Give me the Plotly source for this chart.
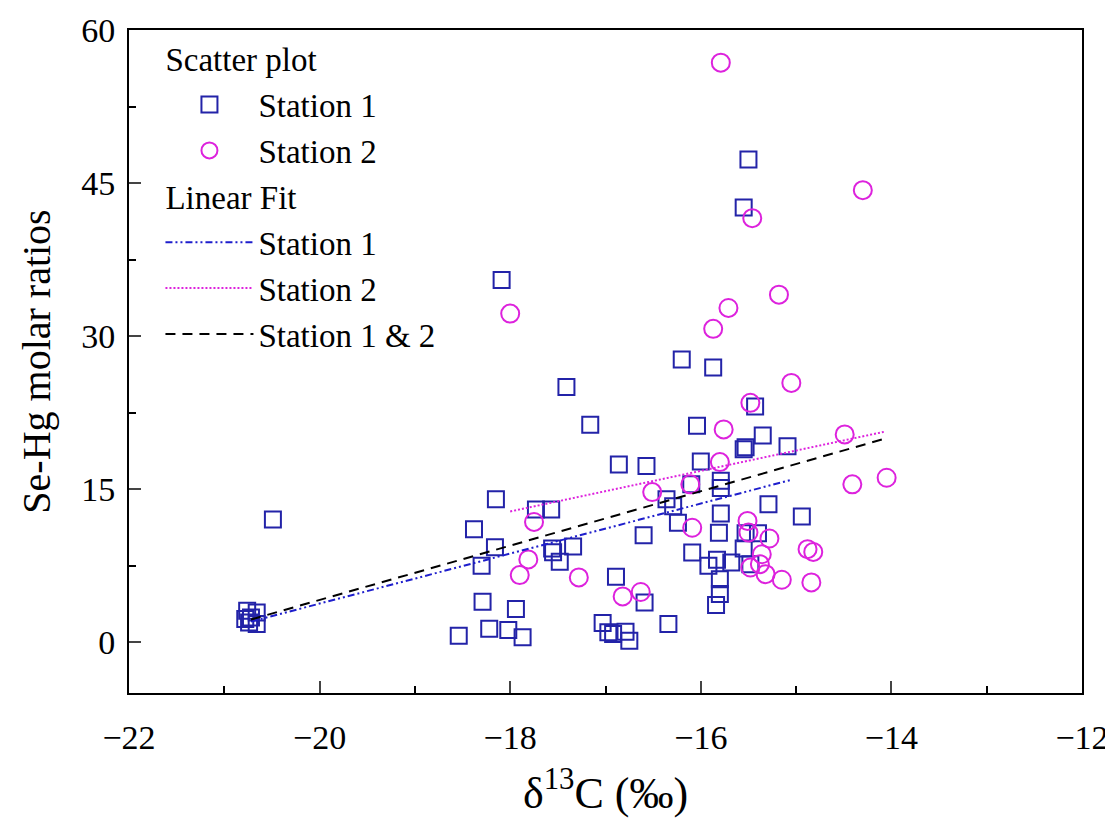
import plotly.graph_objects as go

# Station 1 (squares)
s1_x = [-20.76, -20.66, -20.78, -20.74, -20.66, -20.72, -20.49,
        -18.38, -18.16, -18.30, -18.29, -18.22, -18.54, -18.09,
        -17.41, -17.16, -16.20, -15.87, -16.04, -16.86, -16.57, -16.00,
        -18.15, -17.73, -17.57, -16.10, -16.36, -16.29, -16.24,
        -17.56, -17.34, -17.48, -17.55, -16.60, -16.89, -16.59, -16.34,
        -17.94, -18.02, -17.87, -17.03, -16.97, -16.92, -16.79, -16.75,
        -15.43, -15.35, -15.09, -15.55, -15.53, -15.79, -15.79, -15.29,
        -15.79, -14.94, -15.81, -15.53, -15.40, -16.09, -15.92, -15.83,
        -15.68, -15.55, -15.48, -15.80, -15.80, -15.84, -15.50, -15.55]
s1_y = [3.06, 2.90, 2.25, 1.90, 1.76, 2.40, 12.0,
        11.06, 9.30, 7.47, 3.94, 1.30, 0.62, 35.5,
        25.0, 21.3, 27.7, 26.9, 21.2, 17.4, 17.25, 17.7,
        14.0, 13.0, 13.0, 15.46, 14.0, 13.3, 11.7,
        9.16, 9.36, 7.86, 8.80, 10.47, 6.40, 3.88, 1.76,
        3.23, 1.17, 0.46, 1.86, 0.95, 0.78, 1.00, 0.13,
        23.1, 20.25, 19.2, 18.9, 19.1, 15.8, 15.1, 13.5,
        12.6, 12.3, 10.7, 10.65, 10.65, 8.78, 7.47, 8.06,
        7.80, 9.16, 7.63, 6.16, 4.70, 3.62, 47.3, 42.6]

# Station 2 (circles)
s2_x = [-15.79, -14.30, -15.46, -15.18, -15.71, -15.87, -18.00, -15.05,
        -15.48, -15.76, -14.49, -15.80, -16.11, -16.51, -14.41, -14.05,
        -16.09, -15.51, -15.50, -15.28, -15.36, -14.88, -14.82, -15.48,
        -15.38, -15.32, -15.15, -14.84, -16.63, -16.82, -17.75, -17.81,
        -17.90, -17.28]
s2_y = [56.8, 44.3, 41.55, 34.05, 32.75, 30.7, 32.2, 25.4,
        23.45, 20.84, 20.35, 17.64, 15.46, 14.7, 15.46, 16.1,
        11.2, 11.87, 10.73, 10.15, 8.6, 9.1, 8.83, 7.3,
        7.63, 6.65, 6.1, 5.84, 4.9, 4.47, 11.77, 8.1,
        6.56, 6.33]

# Linear fit end points
fit1_x = [-20.72, -15.05]
fit1_y = [2.0, 15.9]
fit2_x = [-18.00, -14.08]
fit2_y = [12.8, 20.6]
fit12_x = [-20.72, -14.08]
fit12_y = [2.2, 19.9]

x_ticks = [-22, -20, -18, -16, -14, -12]
y_ticks = [0, 15, 30, 45, 60]

FONT = "Liberation Serif"
BLUE = "#2323A8"
MAG = "#DD22DD"

fig = go.Figure()
fig.add_trace(go.Scatter(
    x=s1_x, y=s1_y, mode="markers", name="Station 1",
    legendgroup="scatter", legendgrouptitle_text="Scatter plot",
    marker=dict(symbol="square-open", size=16, color=BLUE, line=dict(width=2, color=BLUE))))
fig.add_trace(go.Scatter(
    x=s2_x, y=s2_y, mode="markers", name="Station 2",
    legendgroup="scatter",
    marker=dict(symbol="circle-open", size=18, color=MAG, line=dict(width=2, color=MAG))))
fig.add_trace(go.Scatter(
    x=fit1_x, y=fit1_y, mode="lines", name="Station 1",
    legendgroup="fit", legendgrouptitle_text="Linear Fit",
    line=dict(color="#1E1ECC", width=2, dash="7px,3px,2px,3px,2px,3px")))
fig.add_trace(go.Scatter(
    x=fit2_x, y=fit2_y, mode="lines", name="Station 2",
    legendgroup="fit",
    line=dict(color=MAG, width=2, dash="2px,2px")))
fig.add_trace(go.Scatter(
    x=fit12_x, y=fit12_y, mode="lines", name="Station 1 & 2",
    legendgroup="fit",
    line=dict(color="black", width=2, dash="10px,7px")))

fig.update_layout(
    width=1113, height=830,
    margin=dict(l=121, r=39, t=22, b=145, autoexpand=False),
    paper_bgcolor="white", plot_bgcolor="white",
    font=dict(family=FONT, size=34, color="black"),
    showlegend=True,
    legend=dict(x=0.033, y=0.999, xanchor="left", yanchor="top",
                bgcolor="rgba(0,0,0,0)", font=dict(size=33, family=FONT),
                grouptitlefont=dict(size=33, family=FONT),
                tracegroupgap=0, itemwidth=88),
    xaxis=dict(range=[-22, -12], tickvals=x_ticks, ticks="inside", ticklen=12, tickwidth=2,
               minor=dict(dtick=1, ticks="inside", ticklen=7, tickwidth=2, tickcolor="black"),
               showline=True, linewidth=2, linecolor="black", mirror=True,
               showgrid=False, zeroline=False, ticklabelstandoff=13,
               tickfont=dict(size=34, family=FONT),
               title=dict(text="δ<sup>13</sup>C (‰)", font=dict(size=44, family=FONT), standoff=22)),
    yaxis=dict(range=[-5, 60], tickvals=y_ticks, ticks="inside", ticklen=12, tickwidth=2,
               minor=dict(tick0=0, dtick=7.5, ticks="inside", ticklen=7, tickwidth=2, tickcolor="black"),
               showline=True, linewidth=2, linecolor="black", mirror=True,
               showgrid=False, zeroline=False, ticklabelstandoff=5,
               tickfont=dict(size=34, family=FONT),
               title=dict(text="Se-Hg molar ratios", font=dict(size=40, family=FONT), standoff=18)),
)

fig.write_html("out.html")
